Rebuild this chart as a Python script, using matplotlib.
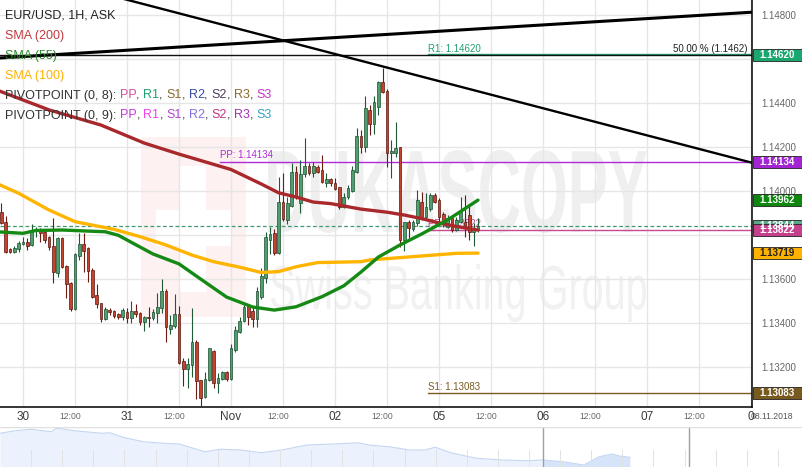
import matplotlib
matplotlib.use("Agg")
import matplotlib.pyplot as plt
import numpy as np
from matplotlib import transforms
from matplotlib.font_manager import FontProperties
from matplotlib.patches import PathPatch, Rectangle
from matplotlib.textpath import TextPath

plt.rcParams["font.family"] = ["Liberation Sans", "DejaVu Sans"]

W, H = 803, 467

# ------------------------------------------------------------
# EUR/USD 1H candles, x = trading hours since 30 Oct 00:00
# (weekend removed, so 05 Nov 00:00 = hour 96)
# ------------------------------------------------------------
hours = list(range(-5, 106))
opens = [
    1.13907, 1.13859, 1.13736, 1.13724, 1.13736, 1.13759, 1.13771, 1.13756, 1.13821, 1.13824,
    1.13816, 1.13791, 1.13751, 1.13630, 1.13786, 1.13662, 1.13582, 1.13464, 1.13706, 1.13760,
    1.13741, 1.13642, 1.13529, 1.13494, 1.13418, 1.13460, 1.13456, 1.13442, 1.13430, 1.13453,
    1.13425, 1.13456, 1.13445, 1.13407, 1.13430, 1.13423, 1.13445, 1.13468, 1.13547, 1.13375,
    1.13388, 1.13441, 1.13229, 1.13194, 1.13209, 1.13314, 1.13141, 1.13064, 1.13142, 1.13273,
    1.13127, 1.13147, 1.13177, 1.13145, 1.13279, 1.13362, 1.13412, 1.13479, 1.13457, 1.13418,
    1.13518, 1.13604, 1.13779, 1.13812, 1.13721, 1.13953, 1.13870, 1.13935, 1.14089, 1.13948,
    1.14077, 1.14115, 1.14085, 1.14112, 1.14097, 1.14039, 1.14055, 1.14036, 1.14018, 1.13930,
    1.13973, 1.14003, 1.14089, 1.14251, 1.14203, 1.14370, 1.14306, 1.14384, 1.14498, 1.14457,
    1.14173, 1.14173, 1.14200, 1.13779, 1.13859, 1.13829, 1.13854, 1.13953, 1.13885, 1.13918,
    1.13983, 1.13960, 1.13897, 1.13839, 1.13877, 1.13824, 1.13862, 1.13862, 1.13892, 1.13816,
    1.13824,
]
highs = [
    1.13947, 1.13888, 1.13741, 1.13751, 1.13775, 1.13794, 1.13786, 1.13851, 1.13839, 1.13835,
    1.13824, 1.13797, 1.13877, 1.13794, 1.13794, 1.13665, 1.13589, 1.13718, 1.13809, 1.13809,
    1.13748, 1.13650, 1.13577, 1.13494, 1.13475, 1.13468, 1.13460, 1.13447, 1.13471, 1.13471,
    1.13501, 1.13488, 1.13451, 1.13435, 1.13473, 1.13466, 1.13536, 1.13600, 1.13556, 1.13438,
    1.13533, 1.13479, 1.13241, 1.13242, 1.13468, 1.13324, 1.13142, 1.13177, 1.13289, 1.13279,
    1.13175, 1.13184, 1.13184, 1.13306, 1.13388, 1.13430, 1.13491, 1.13488, 1.13475, 1.13566,
    1.13650, 1.13816, 1.13839, 1.13827, 1.14066, 1.14082, 1.13975, 1.14127, 1.14115, 1.14142,
    1.14241, 1.14127, 1.14135, 1.14120, 1.14165, 1.14082, 1.14059, 1.14059, 1.14018, 1.13991,
    1.14029, 1.14115, 1.14286, 1.14279, 1.14433, 1.14392, 1.14433, 1.14503, 1.14559, 1.14465,
    1.14233, 1.14316, 1.14200, 1.13862, 1.13870, 1.13870, 1.14006, 1.13998, 1.13994, 1.13991,
    1.13991, 1.13969, 1.13907, 1.13893, 1.13885, 1.13882, 1.13975, 1.13983, 1.13938, 1.13857,
    1.13877,
]
lows = [
    1.13851, 1.13721, 1.13718, 1.13718, 1.13725, 1.13756, 1.13733, 1.13753, 1.13794, 1.13768,
    1.13764, 1.13733, 1.13585, 1.13609, 1.13650, 1.13514, 1.13457, 1.13460, 1.13688, 1.13635,
    1.13589, 1.13514, 1.13468, 1.13407, 1.13415, 1.13438, 1.13423, 1.13420, 1.13415, 1.13403,
    1.13403, 1.13430, 1.13392, 1.13366, 1.13382, 1.13415, 1.13403, 1.13445, 1.13316, 1.13351,
    1.13377, 1.13215, 1.13115, 1.13107, 1.13157, 1.13055, 1.13025, 1.13059, 1.13139, 1.13104,
    1.13084, 1.13142, 1.13139, 1.13141, 1.13270, 1.13356, 1.13406, 1.13392, 1.13382, 1.13385,
    1.13510, 1.13582, 1.13715, 1.13711, 1.13715, 1.13865, 1.13851, 1.13930, 1.13964, 1.13903,
    1.14066, 1.14074, 1.14066, 1.14082, 1.14036, 1.14021, 1.14024, 1.14006, 1.13918, 1.13924,
    1.13964, 1.13998, 1.14083, 1.14175, 1.14180, 1.14256, 1.14260, 1.14347, 1.14445, 1.14112,
    1.14059, 1.14157, 1.13748, 1.13730, 1.13786, 1.13820, 1.13844, 1.13870, 1.13877, 1.13912,
    1.13945, 1.13862, 1.13839, 1.13833, 1.13816, 1.13820, 1.13854, 1.13794, 1.13779, 1.13751,
    1.13815,
]
closes = [
    1.13854, 1.13725, 1.13725, 1.13742, 1.13766, 1.13771, 1.13753, 1.13824, 1.13827, 1.13809,
    1.13779, 1.13745, 1.13635, 1.13786, 1.13655, 1.13577, 1.13464, 1.13715, 1.13760, 1.13730,
    1.13639, 1.13521, 1.13486, 1.13418, 1.13465, 1.13450, 1.13433, 1.13427, 1.13460, 1.13425,
    1.13456, 1.13441, 1.13407, 1.13427, 1.13423, 1.13451, 1.13473, 1.13547, 1.13382, 1.13392,
    1.13441, 1.13221, 1.13194, 1.13214, 1.13314, 1.13138, 1.13059, 1.13145, 1.13286, 1.13127,
    1.13150, 1.13177, 1.13145, 1.13286, 1.13370, 1.13412, 1.13475, 1.13427, 1.13418, 1.13548,
    1.13615, 1.13794, 1.13806, 1.13718, 1.13953, 1.13873, 1.13945, 1.14089, 1.13973, 1.14077,
    1.14115, 1.14082, 1.14115, 1.14089, 1.14041, 1.14055, 1.14036, 1.14012, 1.13930, 1.13975,
    1.14014, 1.14097, 1.14251, 1.14200, 1.14377, 1.14306, 1.14406, 1.14498, 1.14453, 1.14173,
    1.14184, 1.14195, 1.13779, 1.13862, 1.13832, 1.13859, 1.13960, 1.13885, 1.13927, 1.13983,
    1.13953, 1.13885, 1.13854, 1.13877, 1.13824, 1.13870, 1.13907, 1.13842, 1.13816, 1.13832,
    1.13844,
]

# moving averages
sma200_h = [-6, 6, 18, 28, 36, 48, 55, 59, 63, 67, 71, 78, 84, 88, 92, 96, 100, 105]
sma200_v = [1.14460, 1.14370, 1.14301, 1.14219, 1.14169, 1.14099, 1.14033, 1.13993, 1.13974,
            1.13951, 1.13944, 1.13919, 1.13905, 1.13892, 1.13876, 1.13856, 1.13840, 1.13824]
sma55_h = [-6, 0, 3, 9, 19, 22, 25, 30, 36, 41, 47, 53, 58, 63, 69, 74, 78, 82, 87, 92, 98, 105]
sma55_v = [1.13816, 1.13809, 1.13822, 1.13824, 1.13816, 1.13800, 1.13768, 1.13715, 1.13670,
           1.13601, 1.13519, 1.13474, 1.13460, 1.13475, 1.13521, 1.13570, 1.13633, 1.13701,
           1.13756, 1.13806, 1.13870, 1.13960]
sma100_h = [-6, -1, 6, 12, 21, 27, 33, 39, 44, 50, 55, 59, 63, 68, 78, 80, 92, 100, 105]
sma100_v = [1.14035, 1.13991, 1.13915, 1.13862, 1.13827, 1.13794, 1.13756, 1.13710, 1.13680,
            1.13655, 1.13631, 1.13635, 1.13657, 1.13676, 1.13680, 1.13688, 1.13706, 1.13718,
            1.13719]

# trend lines (hour, price) endpoints
rising_h, rising_v = [-5.3, 168.2], [1.14606, 1.14814]
falling_h, falling_v = [-5.3, 168.2], [1.15021, 1.14130]

# levels
fib_level = 1.14620
ask_level = 1.13844
pp9_level, pp9_start = 1.14134, 45.5
pivot8_start = 93.5
r1_level, pp8_level, s1_level = 1.14620, 1.13822, 1.13083

# price boxes on the right axis
box_values = [1.14620, 1.14134, 1.13962, 1.13844, 1.13822, 1.13719, 1.13083]
box_colors = ["#19a66f", "#a224d2", "#0f870f", "#5aa88a", "#c43f8c", "#ffb300", "#785a1f"]
box_text_colors = ["white", "white", "white", "white", "white", "#222222", "white"]

day_ticks = [0, 24, 48, 72, 96, 120, 144]
day_labels = ["30", "31", "Nov", "02", "05", "06", "07"]
half_ticks = [12, 36, 60, 84, 108, 132, 156]

pivot_names = ["PP", "R1", "S1", "R2", "S2", "R3", "S3"]
pivot8_colors = ["#d24f9c", "#1fa070", "#8a6a2c", "#3a4ca2", "#4d3b58", "#8a6a2c", "#c533c5"]
pivot9_colors = ["#c236e0", "#f044ee", "#b446d2", "#8072e0", "#c23583", "#a334b4", "#33a2c2"]

# navigator overview (day index, price)
nav_day = [0.0, 0.77, 1.53, 2.55, 2.80, 3.83, 5.10, 5.48, 6.12, 7.14, 8.16, 8.93, 10.20, 10.97,
           11.99, 13.01, 14.03, 15.30, 16.58, 17.85, 18.37, 19.38, 20.40, 21.17, 21.68, 22.45,
           23.72, 25.00, 26.27, 27.04, 28.05, 29.08, 29.84, 30.48, 30.86, 31.37]
nav_price = [1.1570, 1.1590, 1.1602, 1.1582, 1.1610, 1.1588, 1.1570, 1.1574, 1.1538, 1.1502,
             1.1490, 1.1484, 1.1422, 1.1442, 1.1436, 1.1414, 1.1436, 1.1476, 1.1484, 1.1494,
             1.1476, 1.1462, 1.1436, 1.1436, 1.1458, 1.1414, 1.1370, 1.1356, 1.1350, 1.1356,
             1.1342, 1.1316, 1.1382, 1.1404, 1.1388, 1.1378]
nav_window = [27.05, 34.32]

# ------------------------------------------------------------
fig = plt.figure(figsize=(W / 100, H / 100), dpi=100)
ax_bottom = 406.7
ax = fig.add_axes([0, 1 - ax_bottom / H, 752 / W, ax_bottom / H])
xmin, xmax = -5.31, 168.23
ymin, ymax = 1.130209, 1.148695
ax.set_xlim(xmin, xmax)
ax.set_ylim(ymin, ymax)

# grid
ax.set_xticks(np.arange(0, 169, 12))
ax.set_xticklabels([])
yt = np.round(np.arange(1.132, 1.1481, 0.002), 3)
ax.set_yticks(yt)
ax.set_yticklabels(["" if round(v, 3) in (1.146, 1.138) else f"{v:.5f}" for v in yt])
ax.yaxis.tick_right()
ax.tick_params(axis="both", length=0)
ax.tick_params(axis="y", pad=7, labelsize=7, labelcolor="#666666")
ax.set_axisbelow(True)
ax.grid(color="#e6e6e6", linewidth=1)
for s in ["top", "left"]:
    ax.spines[s].set_visible(False)
ax.spines["right"].set_linewidth(1.1)
ax.spines["bottom"].set_linewidth(1.1)


def px_box(x0, y0, x1, y1):
    # pixel box (top-left origin) -> figure fraction
    return x0 / W, 1 - y1 / H, (x1 - x0) / W, (y1 - y0) / H


# watermark
fx, fy, fw, fh = px_box(141, 137, 246, 317)
ax.add_artist(Rectangle((fx, fy), fw, fh, transform=fig.transFigure, facecolor="#fdf1f1",
                        edgecolor="none", zorder=0.1))
for b in [(180, 166, 206, 292), (156, 210, 232, 246)]:
    fx, fy, fw, fh = px_box(*b)
    ax.add_artist(Rectangle((fx, fy), fw, fh, transform=fig.transFigure, facecolor="white",
                            edgecolor="none", zorder=0.15))


def fit_text(s, box, color, weight):
    fp = FontProperties(family="Liberation Sans", weight=weight)
    tp = TextPath((0, 0), s, size=100, prop=fp)
    bb = tp.get_extents()
    x0, y0, x1, y1 = box
    sx = (x1 - x0) / W / bb.width
    sy = (y1 - y0) / H / bb.height
    tr = (transforms.Affine2D().translate(-bb.x0, -bb.y0).scale(sx, sy)
          .translate(x0 / W, 1 - y1 / H) + fig.transFigure)
    ax.add_artist(PathPatch(tp, transform=tr, facecolor=color, edgecolor="none", zorder=0.2))


fit_text("DUKASCOPY", (268, 150, 647, 233), "#efefef", "bold")
fit_text("Swiss Banking Group", (271, 264, 646, 322), "#f1f1f1", "normal")

# horizontal levels
ax.axhline(ask_level, color="#3f9a70", linewidth=0.9, linestyle=(0, (3, 2)), zorder=2)
ax.plot([pivot8_start, xmax], [r1_level + 0.00003] * 2, color="#1fa070", linewidth=1.0, zorder=2)
ax.axhline(fib_level, color="#111111", linewidth=1.0, zorder=2.1)
ax.plot([pp9_start, xmax], [pp9_level] * 2, color="#b02ad8", linewidth=1.0, zorder=2)
ax.plot([pivot8_start, xmax], [pp8_level] * 2, color="#c84a90", linewidth=1.0, zorder=2)
ax.plot([pivot8_start, xmax], [s1_level] * 2, color="#7a5a22", linewidth=1.0, zorder=2)

lab_off = 0.00006
ax.text(pivot8_start, r1_level + lab_off, f"R1: {r1_level:.5f}", color="#1fa070", fontsize=7,
        va="bottom", ha="left", zorder=2)
ax.text(167.3, fib_level + lab_off, "50.00 % (1.1462)", color="#222222", fontsize=7,
        va="bottom", ha="right", zorder=2)
ax.text(pp9_start, pp9_level + lab_off, f"PP: {pp9_level:.5f}", color="#b02ad8", fontsize=7,
        va="bottom", ha="left", zorder=2)
ax.text(pivot8_start, pp8_level + lab_off, f"PP: {pp8_level:.5f}", color="#c84a90", fontsize=7,
        va="bottom", ha="left", zorder=2)
ax.text(pivot8_start, s1_level + lab_off, f"S1: {s1_level:.5f}", color="#7a5a22", fontsize=7,
        va="bottom", ha="left", zorder=2)

# candles
o = np.array(opens)
c = np.array(closes)
hi = np.array(highs)
lo = np.array(lows)
x = np.array(hours)
up = c >= o
body_low = np.minimum(o, c)
body_h = np.maximum(np.abs(c - o), 0.00004)
ax.vlines(x[up], lo[up], hi[up], color="#1f5a37", linewidth=0.8, zorder=3)
ax.vlines(x[~up], lo[~up], hi[~up], color="#6a1c12", linewidth=0.8, zorder=3)
ax.bar(x[up], body_h[up], bottom=body_low[up], width=0.66, color="#4f9e6e",
       edgecolor="#1d4f31", linewidth=0.5, zorder=4)
ax.bar(x[~up], body_h[~up], bottom=body_low[~up], width=0.66, color="#c4432f",
       edgecolor="#5c1710", linewidth=0.5, zorder=4)

# moving averages
ax.plot(sma200_h, sma200_v, color="#a8282b", linewidth=2.4, solid_capstyle="round", zorder=5)
ax.plot(sma100_h, sma100_v, color="#ffb500", linewidth=2.4, solid_capstyle="round", zorder=5)
ax.plot(sma55_h, sma55_v, color="#148a14", linewidth=2.4, solid_capstyle="round", zorder=5)

# trend lines
ax.plot(rising_h, rising_v, color="black", linewidth=2.2, zorder=6)
ax.plot(falling_h, falling_v, color="black", linewidth=1.7, zorder=6)

# right-hand price boxes
btr = transforms.blended_transform_factory(fig.transFigure, ax.transData)
bh = 12 / ax_bottom * (ymax - ymin)
for v, col, tcol in zip(box_values, box_colors, box_text_colors):
    ax.add_artist(Rectangle((753 / W, v - bh / 2), 49 / W, bh, transform=btr, facecolor=col,
                            edgecolor="#222222", linewidth=0.6, clip_on=False, zorder=8))
    ax.text(777.5 / W, v, f"{v:.5f}", transform=btr, color=tcol, fontsize=7, fontweight="bold",
            ha="center", va="center", clip_on=False, zorder=9)

# x labels
xtr = ax.get_xaxis_transform()
ly = -10 / ax_bottom
for h, s in zip(day_ticks, day_labels):
    ax.text(h, ly, s, transform=xtr, fontsize=8.5, color="#3a3a3a", ha="center", va="center")
for h in half_ticks:
    ax.text(h - 1, ly, "12:00", transform=xtr, fontsize=6.2, color="#666666", ha="center",
            va="center")
ax.text(167.1, ly, "0", transform=xtr, fontsize=8.5, color="#3a3a3a", ha="left", va="center")
ax.text(168.0, ly, "08.11.2018", transform=xtr, fontsize=6.2, color="#555555", ha="left",
        va="center")

# top-left legend
legend_rows = [
    ("EUR/USD, 1H, ASK", "#222222"),
    ("SMA (200)", "#c0393f"),
    ("SMA (55)", "#2a8a2a"),
    ("SMA (100)", "#ffb300"),
]
for i, (s, col) in enumerate(legend_rows):
    fig.text(5 / W, 1 - (15.5 + 20 * i) / H, s, color=col, fontsize=9, va="center", ha="left")


def pivot_row(y_px, label, colors):
    prev = fig.text(5 / W, 1 - y_px / H, label, color="#333333", fontsize=9, va="center",
                    ha="left")
    for k, (name, col) in enumerate(zip(pivot_names, colors)):
        prev = ax.annotate(name, xy=(1, 0), xycoords=prev, color=col, fontsize=9, va="bottom",
                           ha="left", annotation_clip=False)
        if k < len(pivot_names) - 1:
            prev = ax.annotate(", ", xy=(1, 0), xycoords=prev, color="#333333", fontsize=9,
                               va="bottom", ha="left", annotation_clip=False)


pivot_row(95.5, "PIVOTPOINT (0, 8): ", pivot8_colors)
pivot_row(115.5, "PIVOTPOINT (0, 9): ", pivot9_colors)

# navigator
nav = fig.add_axes([0, 0, 1, 40 / H])
nav.set_xlim(0, 40)
nav.set_ylim(1.1300, 1.1620)
nav.axis("off")
nav.fill_between(nav_day, nav_price, 1.1300, color="#ebf2fd", linewidth=0)
nd = np.array(nav_day)
npr = np.array(nav_price)
sel = nd >= nav_window[0] - 0.6
nav.fill_between(nd[sel], npr[sel], 1.1300, color="#d6e4f9", linewidth=0)
nav.plot(nav_day, nav_price, color="#c4d6f1", linewidth=0.8)
for k in np.arange(1.55, 40, 1.55):
    nav.axvline(k, ymax=0.42, color="#e2e2e2", linewidth=0.7)
for w in nav_window:
    nav.axvline(w, color="#a0a0a0", linewidth=1.0)
nav.axhline(1.1620, color="#e0e0e0", linewidth=1.0)

fig.savefig("out.png", dpi=100)
